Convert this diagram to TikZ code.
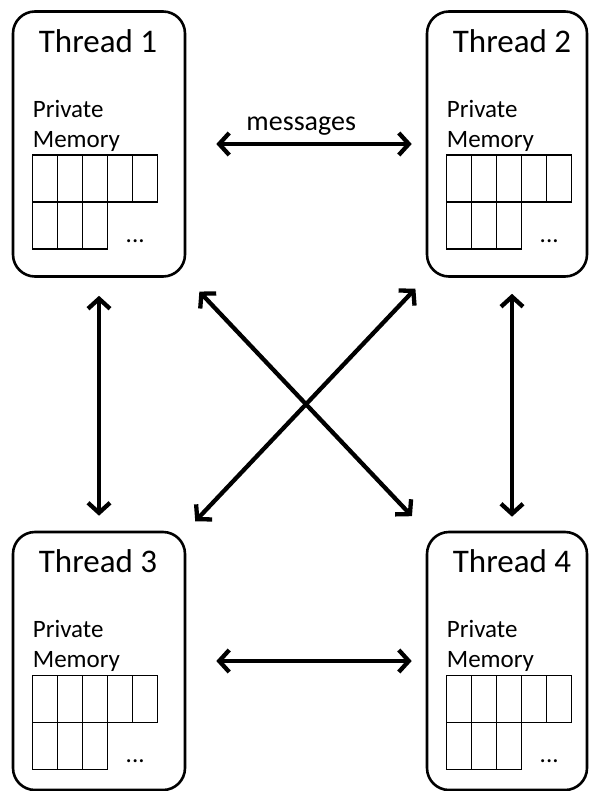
\documentclass[tikz,border=0pt]{standalone}
\usepackage{fontspec}
\setmainfont{Carlito}
\usetikzlibrary{arrows.meta}

\tikzset{
    threadbox/.style={draw, line width=2.6pt, rounded corners=22pt, inner sep=0pt},
    link/.style={{Straight Barb[length=10pt, width=22pt]}-{Straight Barb[length=10pt, width=22pt]}, line width=4.3pt},
    cell/.style={line width=1.5pt},
}

\begin{document}
\begin{tikzpicture}[x=1pt, y=-1pt]
    \useasboundingbox (0,0) rectangle (589,791);
    \node[threadbox, minimum width=172pt, minimum height=265pt] (t1) at (99,144) {};
    \node[threadbox, minimum width=160pt, minimum height=265pt] (t2) at (507,144) {};
    \node[threadbox, minimum width=172pt, minimum height=258pt] (t3) at (99,661) {};
    \node[threadbox, minimum width=160pt, minimum height=258pt] (t4) at (507,661) {};

    \foreach \t/\n in {t1/1, t2/2, t3/3, t4/4} {
        \node[anchor=base west, inner sep=0pt, font=\fontsize{33}{38}\selectfont] (\t-head) at ([xshift=27pt, yshift=-42pt]\t.north west) {Thread \n};
        \coordinate (\t-grid) at ([xshift=21pt, yshift=-145pt]\t.north west);
        \begin{scope}[shift={(\t-grid)}]
            \node[anchor=base west, inner sep=0pt, font=\fontsize{25}{30}\selectfont] (\t-priv) at (0,-38) {Private};
            \node[anchor=base west, inner sep=0pt, font=\fontsize{25}{30}\selectfont] (\t-mem) at (0,-8) {Memory};
            \foreach \c in {0,...,4}
                \draw[cell] (\c*25,0) rectangle ++(25,47);
            \foreach \c in {0,1,2}
                \draw[cell] (\c*25,47) rectangle ++(25,47);
            \node[anchor=base, inner sep=0pt, font=\fontsize{25}{30}\selectfont] (\t-more) at (102.5,87) {...};
        \end{scope}
    }

    % links between the threads
    \draw[link, shorten <=30pt, shorten >=14pt] (t1.east) -- node[pos=0.48, anchor=base, yshift=13pt, font=\fontsize{28}{33}\selectfont] (msg) {messages} (t2.west);
    \draw[link, shorten <=30pt, shorten >=14pt] (t3.east) -- (t4.west);
    \draw[link, shorten <=18pt, shorten >=15pt] (t1.south) -- (t3.north);
    \draw[link, shorten <=16pt, shorten >=14pt] ([xshift=5pt]t2.south) -- ([xshift=5pt]t4.north);
    \draw[link, shorten <=19pt, shorten >=20pt] (t1.south east) -- (t4.north west);
    \draw[link, shorten <=15pt, shorten >=13pt] (t2.south west) -- (t3.north east);
\end{tikzpicture}
\end{document}
